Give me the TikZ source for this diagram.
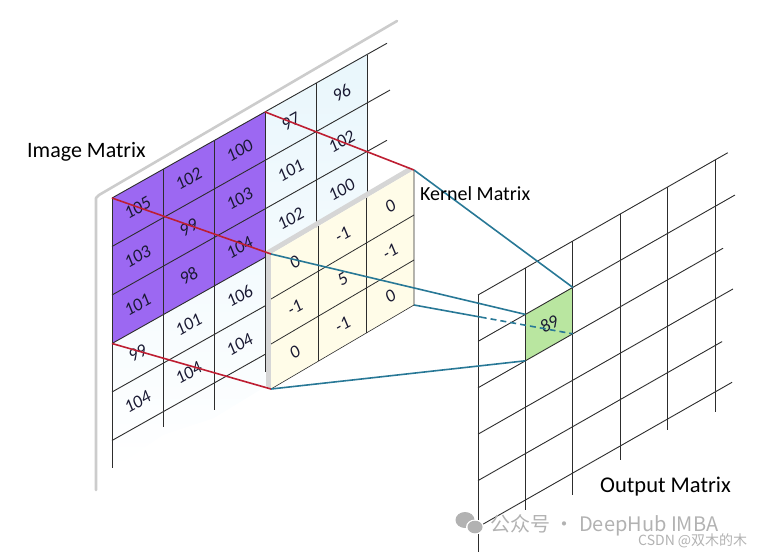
\documentclass[tikz,border=0pt]{standalone}
\usepackage{fontspec}
\setmainfont{Carlito}
\newfontfamily\cjk{Noto Sans CJK SC}
\usetikzlibrary{calc}
\definecolor{purp}{RGB}{156,104,242}
\definecolor{cellc}{RGB}{232,246,252}
\definecolor{cream}{RGB}{255,252,232}
\definecolor{redl}{RGB}{190,30,50}
\definecolor{bluel}{RGB}{40,120,150}
\definecolor{greenc}{RGB}{185,230,160}
\definecolor{gridc}{RGB}{45,45,45}
\definecolor{numc}{RGB}{25,25,50}
\definecolor{wm}{RGB}{178,178,178}
\begin{document}
\begin{tikzpicture}[x=1pt,y=-1pt,
  gline/.style={gridc, line width=0.9pt},
  num/.style={font=\fontsize{18}{18}\selectfont\itshape, text=numc, rotate=29.4, inner sep=0pt},
  lbl/.style={text=black, inner sep=0pt, anchor=base west},
  redline/.style={redl, line width=1.6pt},
  blueline/.style={bluel, line width=1.6pt},
  sheet/.style={gray!40, line width=2.6pt, line cap=round, line join=round},
]
\useasboundingbox (0,0) rectangle (757,552);

% ---------- image sheet ----------
\draw[sheet] (96,490) -- (96,198) -- (99,195) -- (397,21);

% image grid coordinates
\foreach \j in {0,...,6}{
  \foreach \i in {0,...,6}{
    \coordinate (I-\j-\i) at ({112+\j*51},{198-\j*28.7+\i*48.5});
  }
}
% cell background
\shade[top color=cellc, middle color=cellc, bottom color=white]
  (112,198) -- (388,42) -- (390,206) -- (268,275) -- (268,385) -- (214,418) -- (163,435) -- (112,470) -- cycle;
\shade[left color=cellc!0, right color=white] (368,53) -- (392,40) -- (392,208) -- (368,222) -- cycle;
% purple patch
\fill[purp] (I-0-0) -- (I-3-0) -- (I-3-3) -- (I-0-3) -- cycle;

% row lines
\foreach \i/\e in {0/5.39,1/5.45,2/5.39,3/3.1,4/3.1,5/3.0}{
  \draw[gline] (I-0-\i) -- ({112+\e*51},{198-\e*28.7+\i*48.5});
}
% column lines
\foreach \j/\e in {0/5.57,1/5.31,2/5.55,3/5.36,4/3.0,5/3.0}{
  \draw[gline] (I-\j-0) -- ({112+\j*51},{198-\j*28.7+\e*48.5});
}
% numbers
\foreach \j/\i/\v in {0/0/105,1/0/102,2/0/100,3/0/97,4/0/96,
                      0/1/103,1/1/99,2/1/103,3/1/101,4/1/102,
                      0/2/101,1/2/98,2/2/104,3/2/102,4/2/100,
                      0/3/99,1/3/101,2/3/106,
                      0/4/104,1/4/104,2/4/104}{
  \node[num] (n-\j-\i) at ({112+(\j+0.5)*51},{198-(\j+0.5)*28.7+(\i+0.5)*48.5}) {\v};
}

% ---------- kernel ----------
\coordinate (kTL) at (271,254);
\coordinate (kTR) at (414,170);
\coordinate (kBR) at (414,305);
\coordinate (kBL) at (271,389);
\fill[gray!32] (266,251) -- (409,167) -- (kTR) -- (kTL) -- (kBL) -- (266,386) -- cycle;
\fill[cream] (kTL) -- (kTR) -- (kBR) -- (kBL) -- cycle;
\foreach \k in {1,2}{
  \draw[gridc, line width=0.8pt] ($(kTL)!\k/3!(kTR)$) -- ($(kBL)!\k/3!(kBR)$);
  \draw[gridc, line width=0.8pt] ($(kTL)!\k/3!(kBL)$) -- ($(kTR)!\k/3!(kBR)$);
}
\draw[gridc, line width=0.6pt] (kTR) -- (kBR) -- (kBL);
\foreach \j/\i/\v in {0/0/0,1/0/-1,2/0/0,
                      0/1/-1,1/1/5,2/1/-1,
                      0/2/0,1/2/-1,2/2/0}{
  \node[num] (k-\j-\i) at ({271+(\j+0.5)*47.67},{254-(\j+0.5)*28+(\i+0.5)*45}) {\v};
}

% red projection lines
\draw[redline] (I-0-0) -- (kTL);
\draw[redline] (I-3-0) -- (kTR);
\draw[redline] (I-0-3) -- (kBL);

% ---------- output grid ----------
\foreach \j in {0,...,6}{
  \foreach \i in {0,...,6}{
    \coordinate (Q-\j-\i) at ({478+\j*47.4},{295-\j*27+\i*46.4});
  }
}
\fill[greenc] (Q-1-1) -- (Q-2-1) -- (Q-2-2) -- (Q-1-2) -- cycle;
\foreach \i/\e in {0/5.27,1/5.42,2/5.17,3/5.38,4/5.15,5/5.36}{
  \draw[gline] (Q-0-\i) -- ({478+\e*47.4},{295-\e*27+\i*46.4});
}
\foreach \j/\e in {0/5.54,1/5.22,2/5.47,3/5.3,4/5.24,5/5.43}{
  \draw[gline] (Q-\j-0) -- ({478+\j*47.4},{295-\j*27+\e*46.4});
}
\node[num] (out) at ($(Q-1-1)!0.5!(Q-2-2)$) {89};

% blue lines
\coordinate (D) at ($(kBR)!0.42!(Q-2-2)$);
\draw[blueline] (kTL) -- (Q-1-1);
\draw[blueline] (kTR) -- (Q-2-1);
\draw[blueline] (kBL) -- (Q-1-2);
\draw[blueline] (kBR) -- (D);
\draw[blueline, dash pattern=on 6pt off 4pt] (D) -- (Q-2-2);

% ---------- labels ----------
\node[lbl, font=\fontsize{22}{22}\selectfont] (limg) at (27,157) {Image Matrix};
\node[lbl, font=\fontsize{20}{20}\selectfont] (lker) at (420,200) {Kernel Matrix};
\node[lbl, font=\fontsize{22.5}{22.5}\selectfont] (lout) at (600,492) {Output Matrix};

% ---------- watermark ----------
\fill[wm] (465,520) ellipse [x radius=9.5pt, y radius=8pt];
\fill[white] (475,527) ellipse [x radius=9pt, y radius=7.5pt];
\fill[wm] (475,527) ellipse [x radius=7.5pt, y radius=6.3pt];
\node[lbl, text=wm, font=\cjk\fontsize{20}{20}\selectfont] (wm1) at (490,531) {公众号 · DeepHub IMBA};
\node[lbl, text=gray!60, font=\cjk\fontsize{14}{14}\selectfont] (wm2) at (638,545) {CSDN @双木的木};
\end{tikzpicture}
\end{document}
